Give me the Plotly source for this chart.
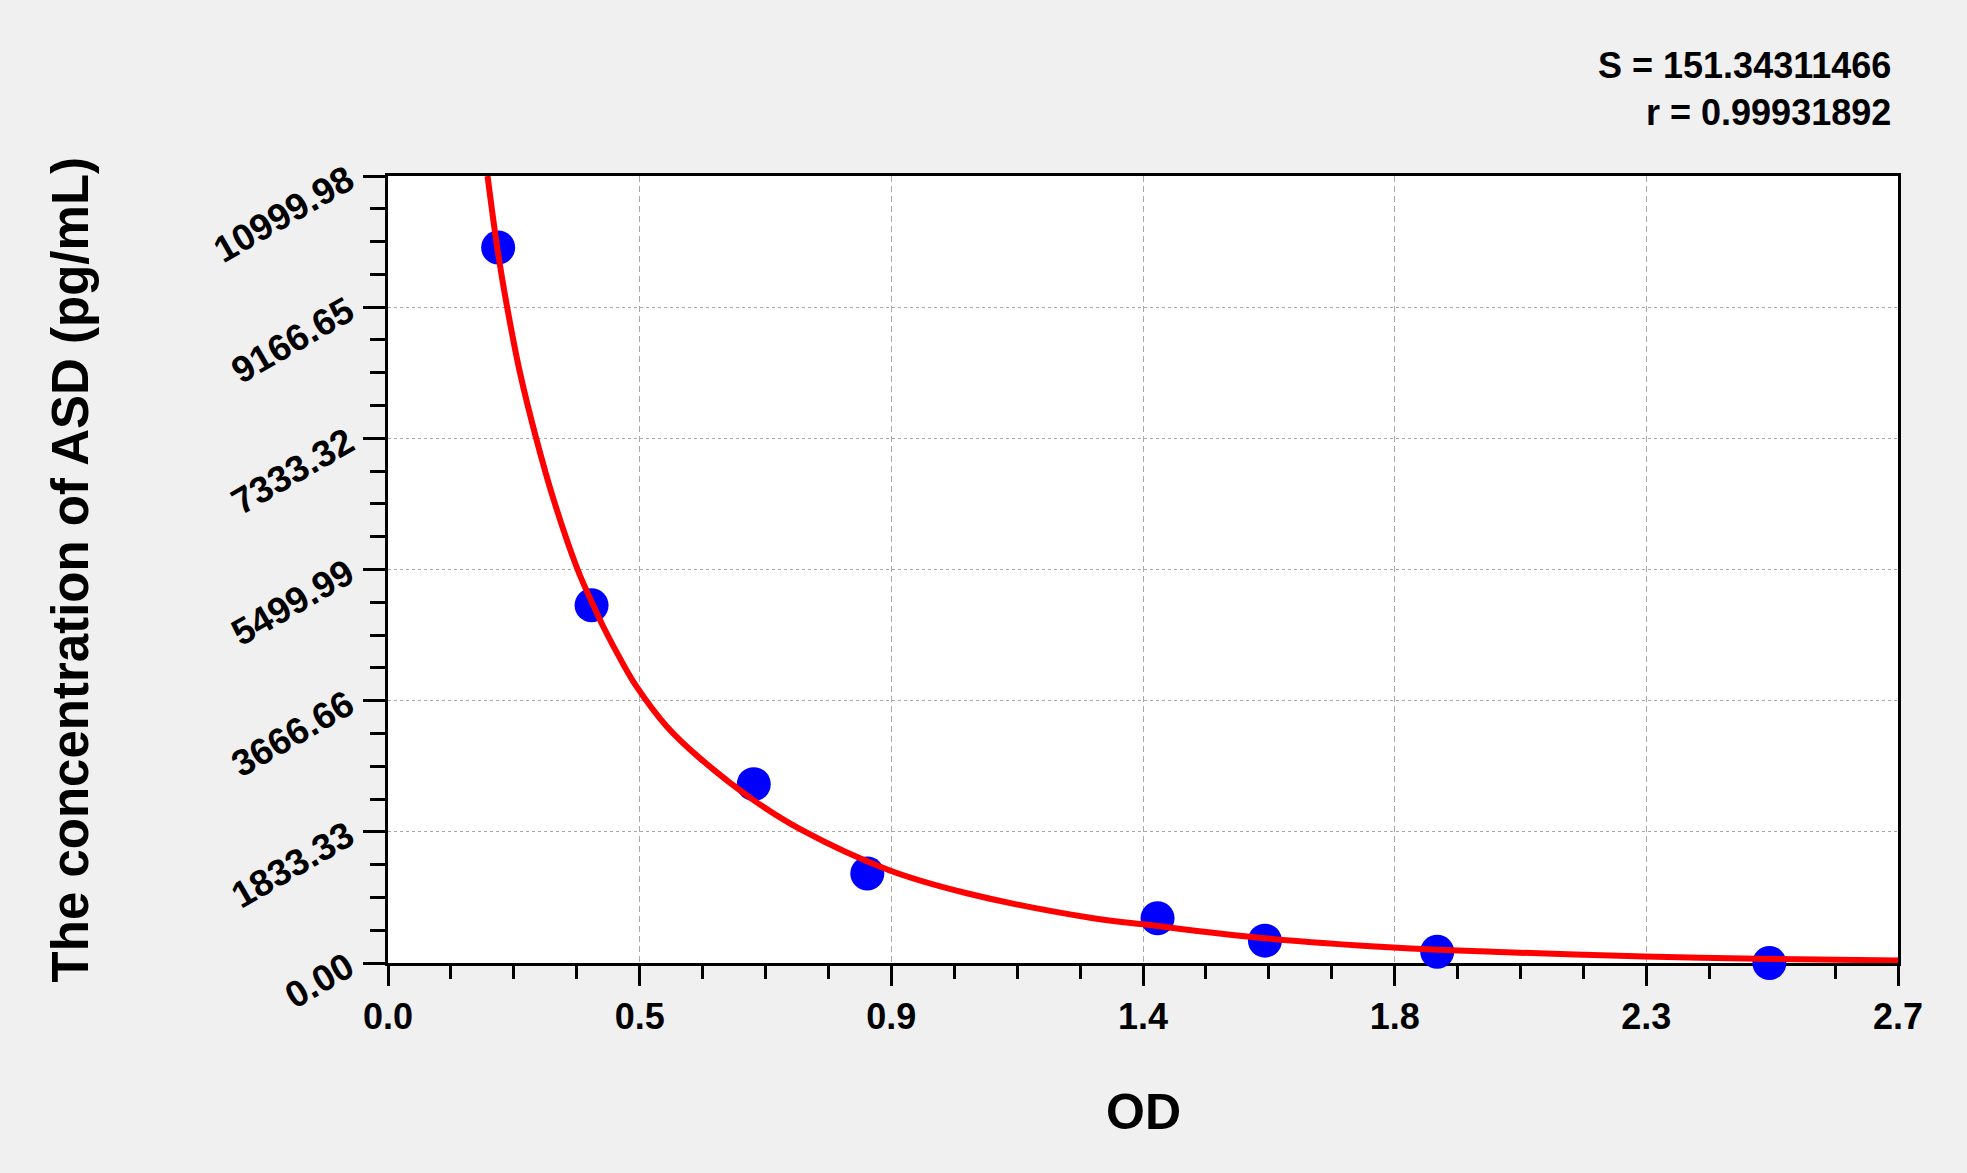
import plotly.graph_objects as go

# standard points (OD vs concentration)
od = [0.197, 0.364, 0.654, 0.857, 1.376, 1.568, 1.876, 2.470]
conc = [10000, 5000, 2500, 1250, 625, 312.5, 156.25, 0]

# fitted curve
curve_od = [0.178, 0.196, 0.213, 0.236, 0.265, 0.296, 0.339, 0.367, 0.385, 0.421, 0.443,
            0.498, 0.558, 0.653, 0.737, 0.895, 1.035, 1.261, 1.346, 1.568, 1.797,
            2.000, 2.247, 2.450, 2.700]
curve_conc = [11000, 9962, 9167, 8250, 7333, 6480, 5500, 5000, 4700, 4170, 3880,
              3310, 2860, 2280, 1870, 1300, 975, 625, 545, 345, 216,
              150, 90, 60, 35]

x_ticks = [0, 0.45, 0.9, 1.35, 1.8, 2.25, 2.7]
x_labels = ["0.0", "0.5", "0.9", "1.4", "1.8", "2.3", "2.7"]
y_ticks = [0, 1833.33, 3666.66, 5499.99, 7333.32, 9166.65, 10999.98]
y_labels = ["0.00", "1833.33", "3666.66", "5499.99", "7333.32", "9166.65", "10999.98"]

s_text = "S = 151.34311466"
r_text = "r = 0.99931892"

FONT = "Liberation Sans, Arial, sans-serif"

fig = go.Figure()
fig.add_trace(go.Scatter(x=od, y=conc, mode="markers", cliponaxis=False,
                         marker=dict(color="#0000ff", size=34, line=dict(width=0))))
fig.add_trace(go.Scatter(x=curve_od, y=curve_conc, mode="lines",
                         line=dict(color="#ff0000", width=6, shape="spline", smoothing=1.0)))

fig.update_layout(
    width=1967, height=1173,
    margin=dict(l=388, r=69, t=176, b=210),
    paper_bgcolor="#f0f0f0", plot_bgcolor="white",
    showlegend=False,
    font=dict(family=FONT, color="black"),
)

fig.update_xaxes(
    range=[0, 2.7], tickmode="array", tickvals=x_ticks, ticktext=x_labels,
    ticks="outside", ticklen=20, tickwidth=3, tickcolor="black",
    minor=dict(dtick=0.1125, tick0=0, ticks="outside", ticklen=13, tickwidth=3,
               tickcolor="black", showgrid=False),
    showline=True, linecolor="black", linewidth=3, mirror=True,
    showgrid=True, gridcolor="#a8a8a8", gridwidth=1, griddash="6px,4px",
    zeroline=False, layer="below traces",
    tickfont=dict(size=36, family=FONT, weight="bold", color="black"),
)
fig.update_yaxes(
    range=[0, 10999.98], tickmode="array", tickvals=y_ticks, ticktext=y_labels,
    ticks="outside", ticklen=22, tickwidth=3, tickcolor="black", tickangle=-30,
    ticklabelstandoff=8,
    minor=dict(dtick=458.3325, tick0=0, ticks="outside", ticklen=15, tickwidth=3,
               tickcolor="black", showgrid=False),
    showline=True, linecolor="black", linewidth=3, mirror=True,
    showgrid=True, gridcolor="#a8a8a8", gridwidth=1, griddash="3px,3px",
    zeroline=False, layer="below traces",
    tickfont=dict(size=37, family=FONT, weight="bold", color="black"),
)

fig.add_annotation(text="OD", xref="paper", yref="paper", x=0.5, y=-0.189,
                   xanchor="center", yanchor="middle", showarrow=False,
                   font=dict(size=50, family=FONT, weight="bold", color="black"))
fig.add_annotation(text="The concentration of ASD (pg/mL)", xref="paper", yref="paper",
                   x=-0.21, y=0.5, textangle=-90, xanchor="center", yanchor="middle",
                   showarrow=False,
                   font=dict(size=51, family=FONT, weight="bold", color="black"))
fig.add_annotation(text=s_text, xref="paper", yref="paper", x=0.9967, y=1.141,
                   xanchor="right", yanchor="middle", showarrow=False,
                   font=dict(size=36, family=FONT, weight="bold", color="black"))
fig.add_annotation(text=r_text, xref="paper", yref="paper", x=0.9967, y=1.081,
                   xanchor="right", yanchor="middle", showarrow=False,
                   font=dict(size=36, family=FONT, weight="bold", color="black"))

fig.write_html("out.html", config={"displayModeBar": False},
               post_script="document.body.style.margin='0';"
                           "document.body.style.background='#f0f0f0';")
